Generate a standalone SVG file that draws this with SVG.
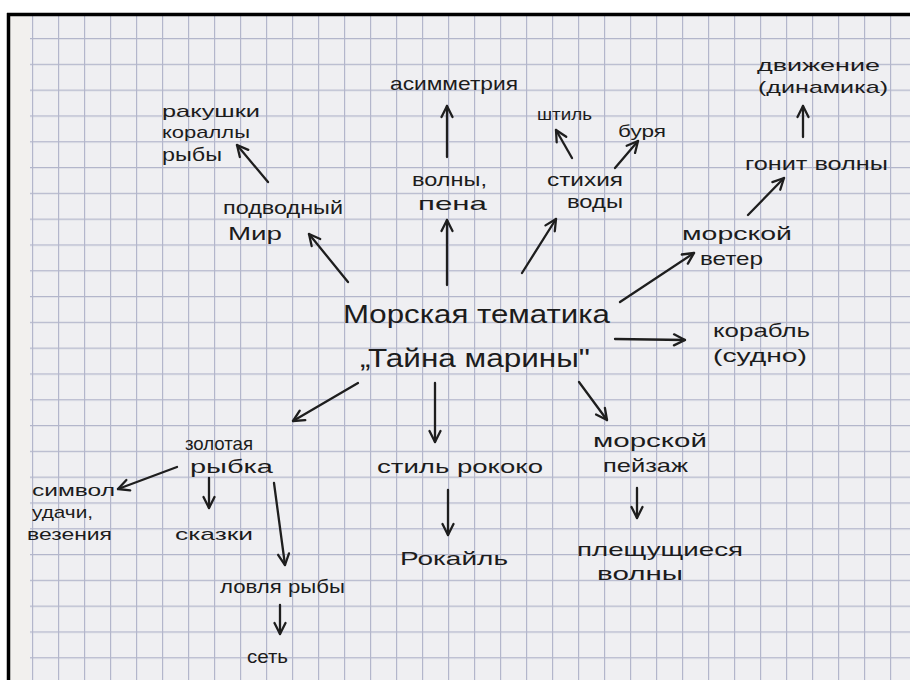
<svg xmlns="http://www.w3.org/2000/svg" width="910" height="680" viewBox="0 0 910 680">
<defs>
<pattern id="grid" patternUnits="userSpaceOnUse" x="32" y="38" width="26" height="25.8">
<path d="M0 0.6H26M0.6 0V25.8" stroke="#b3b6cb" stroke-width="1.2" fill="none"/>
</pattern>
<marker id="ah" markerUnits="userSpaceOnUse" markerWidth="16" markerHeight="16" refX="13" refY="7" orient="auto">
<path d="M2 1.5L13 7L2 12.5" fill="none" stroke="#1e1e1e" stroke-width="2.3" stroke-linecap="round" stroke-linejoin="round"/>
</marker>
<style>
text{font-family:"Liberation Sans","DejaVu Sans",sans-serif;font-size:19px;fill:#1c1c1c}
.c{font-size:25px}
.s{font-size:17px}
.a{fill:none;stroke:#1e1e1e;stroke-width:2.3;stroke-linecap:round;marker-end:url(#ah)}
</style>
</defs>
<rect width="910" height="680" fill="#ffffff"/>
<rect x="10" y="16" width="900" height="664" fill="#f2f0ee"/>
<rect x="30" y="16" width="880" height="664" fill="#efeff2"/>
<rect x="30" y="16" width="880" height="664" fill="url(#grid)"/>
<path d="M7 14.5H910M8.5 13V680" stroke="#000" stroke-width="3.5" fill="none"/>

<g id="connectors">
<path class="a" d="M348 282L309 234"/>
<path class="a" d="M268 182L237 145"/>
<path class="a" d="M447 285L447 220"/>
<path class="a" d="M447 157L447 106"/>
<path class="a" d="M522 273L556 219"/>
<path class="a" d="M572 158L556 130"/>
<path class="a" d="M615 168L638 141"/>
<path class="a" d="M620 302L694 253"/>
<path class="a" d="M748 215L784 178"/>
<path class="a" d="M803 137L803 106"/>
<path class="a" d="M615 339L685 340"/>
<path class="a" d="M358 383L293 421"/>
<path class="a" d="M435 383L435 442"/>
<path class="a" d="M579 382L607 420"/>
<path class="a" d="M177 467L118 489"/>
<path class="a" d="M209 478L209 508"/>
<path class="a" d="M274 483L285 565"/>
<path class="a" d="M280 605L280 634"/>
<path class="a" d="M448 490L448 535"/>
<path class="a" d="M637 488L637 518"/>
</g>

<g id="center">
<text class="c" x="343" y="323" textLength="267" lengthAdjust="spacingAndGlyphs">Морская тематика</text>
<text class="c" x="360" y="367" textLength="230" lengthAdjust="spacingAndGlyphs">„Тайна марины"</text>
</g>
<g id="asymmetry"><text x="390" y="90" textLength="128" lengthAdjust="spacingAndGlyphs">асимметрия</text></g>
<g id="sea-life">
<text class="s" x="162" y="117" textLength="98" lengthAdjust="spacingAndGlyphs">ракушки</text>
<text class="s" x="162" y="138" textLength="88" lengthAdjust="spacingAndGlyphs">кораллы</text>
<text x="162" y="161" textLength="60" lengthAdjust="spacingAndGlyphs">рыбы</text>
</g>
<g id="underwater">
<text x="223" y="214" textLength="120" lengthAdjust="spacingAndGlyphs">подводный</text>
<text x="228" y="240" textLength="54" lengthAdjust="spacingAndGlyphs">Мир</text>
</g>
<g id="waves-foam">
<text x="412" y="186" textLength="75" lengthAdjust="spacingAndGlyphs">волны,</text>
<text x="418" y="210" textLength="69" lengthAdjust="spacingAndGlyphs">пена</text>
</g>
<g id="calm"><text class="s" x="537" y="120" textLength="55" lengthAdjust="spacingAndGlyphs">штиль</text></g>
<g id="storm"><text class="s" x="618" y="137" textLength="48" lengthAdjust="spacingAndGlyphs">буря</text></g>
<g id="water-element">
<text x="547" y="186" textLength="76" lengthAdjust="spacingAndGlyphs">стихия</text>
<text x="567" y="208" textLength="56" lengthAdjust="spacingAndGlyphs">воды</text>
</g>
<g id="motion">
<text class="s" x="757" y="71" textLength="123" lengthAdjust="spacingAndGlyphs">движение</text>
<text class="s" x="758" y="93" textLength="130" lengthAdjust="spacingAndGlyphs">(динамика)</text>
</g>
<g id="drives-waves"><text x="745" y="170" textLength="143" lengthAdjust="spacingAndGlyphs">гонит волны</text></g>
<g id="sea-wind">
<text x="682" y="240" textLength="110" lengthAdjust="spacingAndGlyphs">морской</text>
<text x="700" y="265" textLength="63" lengthAdjust="spacingAndGlyphs">ветер</text>
</g>
<g id="ship">
<text x="713" y="337" textLength="97" lengthAdjust="spacingAndGlyphs">корабль</text>
<text x="713" y="362" textLength="94" lengthAdjust="spacingAndGlyphs">(судно)</text>
</g>
<g id="goldfish">
<text x="185" y="450" textLength="68" lengthAdjust="spacingAndGlyphs">золотая</text>
<text x="190" y="473" textLength="83" lengthAdjust="spacingAndGlyphs">рыбка</text>
</g>
<g id="symbol">
<text class="s" x="32" y="496" textLength="83" lengthAdjust="spacingAndGlyphs">символ</text>
<text class="s" x="32" y="518" textLength="61" lengthAdjust="spacingAndGlyphs">удачи,</text>
<text class="s" x="27" y="540" textLength="85" lengthAdjust="spacingAndGlyphs">везения</text>
</g>
<g id="fairy-tales"><text class="s" x="175" y="540" textLength="78" lengthAdjust="spacingAndGlyphs">сказки</text></g>
<g id="fishing"><text x="220" y="593" textLength="125" lengthAdjust="spacingAndGlyphs">ловля рыбы</text></g>
<g id="net"><text x="247" y="663" textLength="41" lengthAdjust="spacingAndGlyphs">сеть</text></g>
<g id="rococo"><text x="377" y="473" textLength="166" lengthAdjust="spacingAndGlyphs">стиль рококо</text></g>
<g id="rocaille"><text x="400" y="565" textLength="108" lengthAdjust="spacingAndGlyphs">Рокайль</text></g>
<g id="seascape">
<text x="593" y="447" textLength="114" lengthAdjust="spacingAndGlyphs">морской</text>
<text x="603" y="472" textLength="85" lengthAdjust="spacingAndGlyphs">пейзаж</text>
</g>
<g id="splashing-waves">
<text x="577" y="556" textLength="166" lengthAdjust="spacingAndGlyphs">плещущиеся</text>
<text x="597" y="580" textLength="86" lengthAdjust="spacingAndGlyphs">волны</text>
</g>
</svg>
